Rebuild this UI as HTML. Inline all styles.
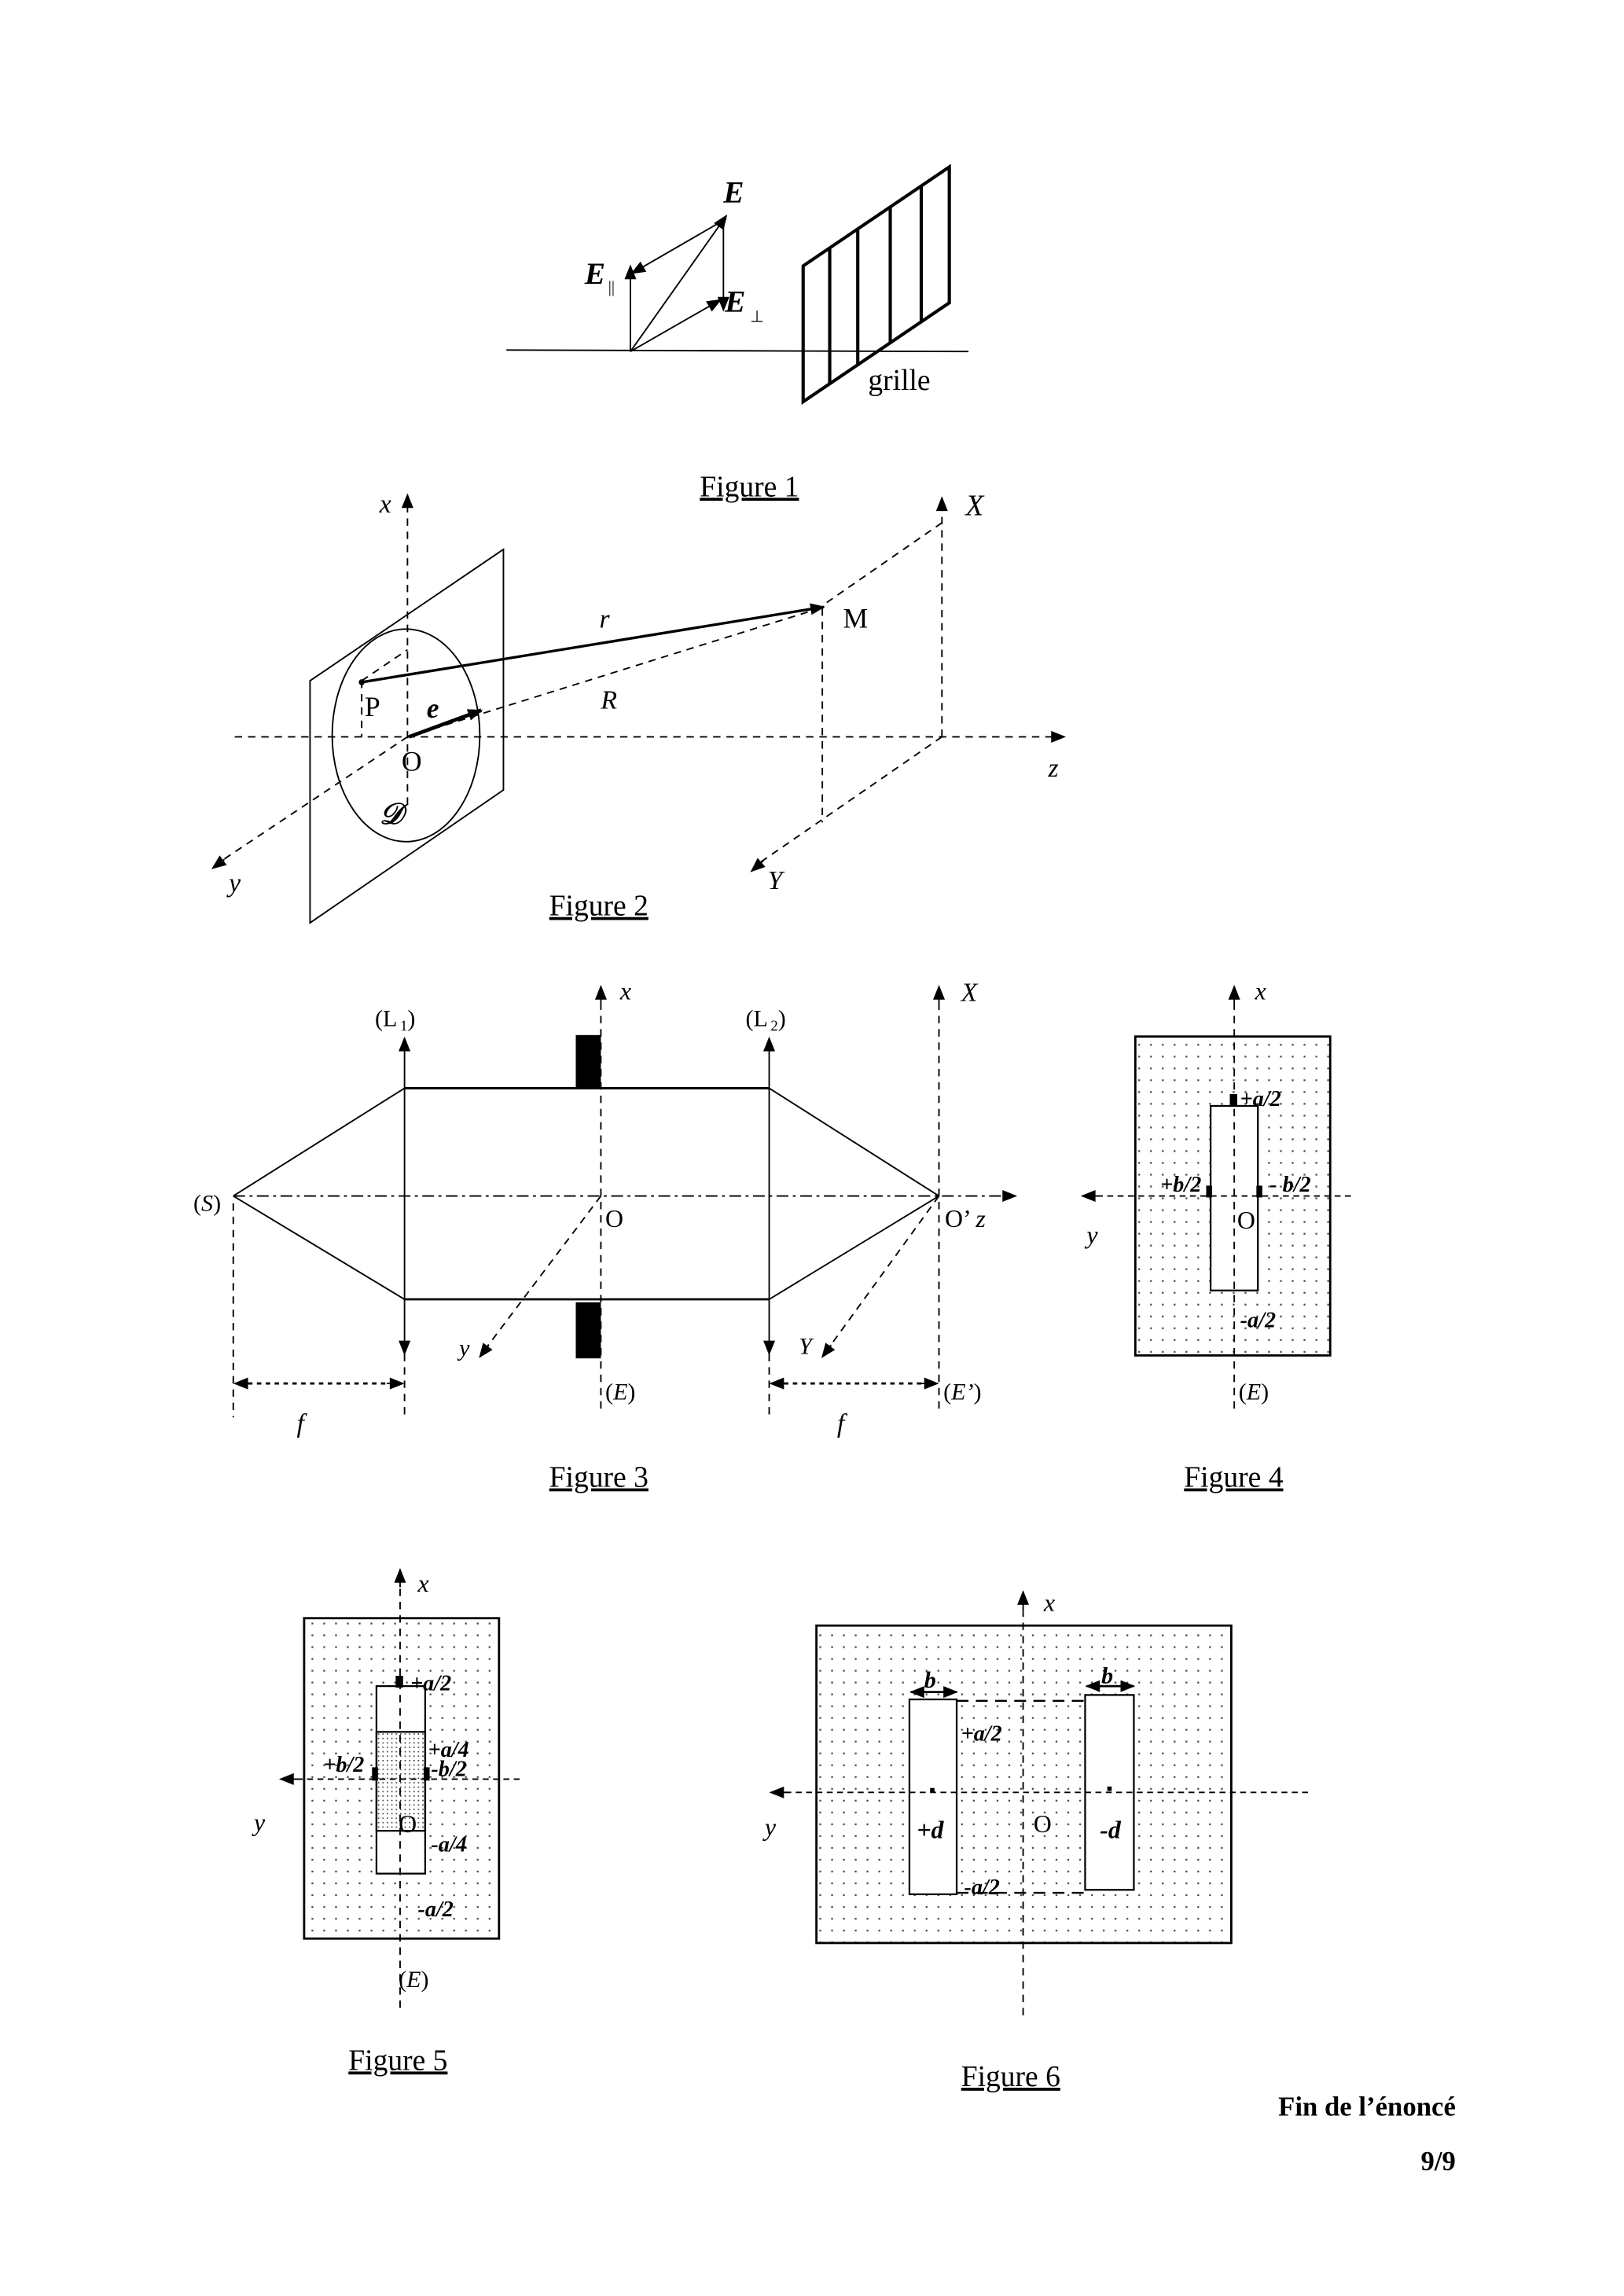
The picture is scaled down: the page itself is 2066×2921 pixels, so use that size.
<!DOCTYPE html>
<html><head><meta charset="utf-8"><style>
html,body{margin:0;padding:0;background:#fff;}
svg{display:block;}
text{font-family:"Liberation Serif",serif;fill:#000;}
.i{font-style:italic;}
.b{font-weight:bold;}
</style></head><body>
<svg width="2066" height="2921" viewBox="0 0 1100 1555" xmlns="http://www.w3.org/2000/svg">
<defs>
<marker id="ah" viewBox="0 0 10 10" refX="9" refY="5" markerWidth="11" markerHeight="10" markerUnits="userSpaceOnUse" orient="auto"><path d="M0,1 L10,5 L0,9 z" fill="#000"/></marker>
<pattern id="dots" width="8" height="8" patternUnits="userSpaceOnUse"><rect x="3" y="3" width="1.2" height="1.2" fill="#444"/></pattern>
<pattern id="dots2" width="3" height="3" patternUnits="userSpaceOnUse"><rect x="1" y="1" width="0.9" height="0.9" fill="#444"/></pattern>
</defs>
<rect width="1100" height="1555" fill="#fff"/>
<g stroke="#000" fill="none" stroke-width="1">
<!-- Figure 1 -->
<line x1="343" y1="237" x2="656" y2="238"/>
<line x1="427" y1="238" x2="427" y2="180" marker-end="url(#ah)"/>
<line x1="427" y1="238" x2="492" y2="146" marker-end="url(#ah)"/>
<line x1="427" y1="238" x2="488" y2="203" marker-end="url(#ah)"/>
<line x1="492" y1="148" x2="428" y2="185" marker-end="url(#ah)"/>
<line x1="490" y1="152" x2="490" y2="210" marker-end="url(#ah)"/>
<g stroke-width="2.2">
<polygon points="544,180 643,113 643,205 544,272"/>
<line x1="562" y1="168" x2="562" y2="260"/>
<line x1="581" y1="155" x2="581" y2="247"/>
<line x1="603" y1="140" x2="603" y2="232"/>
<line x1="624" y1="126" x2="624" y2="218"/>
</g>
<!-- Figure 2 -->
<polygon points="210,461 341,372 341,535 210,625"/>
<ellipse cx="275" cy="498" rx="50" ry="72"/>
<g stroke-dasharray="5,4">
<line x1="276" y1="545" x2="276" y2="345"/>
<line x1="159" y1="499" x2="712" y2="499"/>
<line x1="276" y1="499" x2="150" y2="583"/>
<line x1="638" y1="499" x2="638" y2="345"/>
<line x1="638" y1="354" x2="560" y2="408"/>
<line x1="557" y1="412" x2="557" y2="557"/>
<line x1="638" y1="499" x2="515" y2="584"/>
<line x1="276" y1="499" x2="555" y2="412"/>
<line x1="245" y1="461" x2="245" y2="499"/>
<line x1="245" y1="461" x2="276" y2="440"/>
</g>
<line x1="712" y1="499" x2="721" y2="499" marker-end="url(#ah)"/>
<line x1="276" y1="345" x2="276" y2="335" marker-end="url(#ah)"/>
<line x1="638" y1="346" x2="638" y2="337" marker-end="url(#ah)"/>
<line x1="152" y1="582" x2="144" y2="588" marker-end="url(#ah)"/>
<line x1="517" y1="583" x2="509" y2="590" marker-end="url(#ah)"/>
<line x1="245" y1="462" x2="558" y2="411" stroke-width="1.8" marker-end="url(#ah)"/>
<line x1="277" y1="499" x2="326" y2="481" stroke-width="2.5" marker-end="url(#ah)"/>
<circle cx="245" cy="462" r="1.5" fill="#000"/>
<!-- Figure 3 -->
<line x1="158" y1="810" x2="274" y2="737"/>
<line x1="158" y1="810" x2="274" y2="880"/>
<line x1="274" y1="737" x2="521" y2="737" stroke-width="1.5"/>
<line x1="274" y1="880" x2="521" y2="880" stroke-width="1.5"/>
<line x1="521" y1="737" x2="636" y2="810"/>
<line x1="521" y1="880" x2="636" y2="810"/>
<line x1="274" y1="810" x2="274" y2="703" marker-end="url(#ah)"/>
<line x1="274" y1="810" x2="274" y2="917" marker-end="url(#ah)"/>
<line x1="521" y1="810" x2="521" y2="703" marker-end="url(#ah)"/>
<line x1="521" y1="810" x2="521" y2="917" marker-end="url(#ah)"/>
<line x1="158" y1="810" x2="680" y2="810" stroke-dasharray="8,3,2,3"/>
<line x1="680" y1="810" x2="688" y2="810" marker-end="url(#ah)"/>
<g stroke-dasharray="5,4">
<line x1="407" y1="954" x2="407" y2="680"/>
<line x1="636" y1="954" x2="636" y2="680"/>
<line x1="158" y1="815" x2="158" y2="960"/>
<line x1="274" y1="917" x2="274" y2="960"/>
<line x1="521" y1="917" x2="521" y2="960"/>
<line x1="407" y1="810" x2="330" y2="912"/>
<line x1="636" y1="810" x2="562" y2="912"/>
</g>
<line x1="407" y1="680" x2="407" y2="668" marker-end="url(#ah)"/>
<line x1="636" y1="680" x2="636" y2="668" marker-end="url(#ah)"/>
<line x1="331" y1="911" x2="325" y2="919" marker-end="url(#ah)"/>
<line x1="563" y1="911" x2="557" y2="919" marker-end="url(#ah)"/>
<g stroke-dasharray="3,3" stroke-width="1.5">
<line x1="168" y1="937" x2="264" y2="937"/>
<line x1="531" y1="937" x2="626" y2="937"/>
</g>
<line x1="170" y1="937" x2="159" y2="937" marker-end="url(#ah)"/>
<line x1="262" y1="937" x2="273" y2="937" marker-end="url(#ah)"/>
<line x1="533" y1="937" x2="522" y2="937" marker-end="url(#ah)"/>
<line x1="624" y1="937" x2="635" y2="937" marker-end="url(#ah)"/>
<rect x="390" y="701" width="17" height="36" fill="#000" stroke="none"/>
<rect x="390" y="882" width="17" height="38" fill="#000" stroke="none"/>
<!-- Figure 4 -->
<rect x="769" y="702" width="132" height="216" fill="url(#dots)" stroke-width="1.5"/>
<rect x="820" y="749" width="32" height="125" fill="#fff" stroke-width="1.2"/>
<line x1="836" y1="954" x2="836" y2="680" stroke-dasharray="5,4"/>
<line x1="836" y1="680" x2="836" y2="668" marker-end="url(#ah)"/>
<line x1="915" y1="810" x2="742" y2="810" stroke-dasharray="4,3"/>
<line x1="745" y1="810" x2="733" y2="810" marker-end="url(#ah)"/>
<rect x="833" y="741" width="5" height="8" fill="#000" stroke="none"/>
<rect x="817" y="803" width="4" height="8" fill="#000" stroke="none"/>
<rect x="851" y="803" width="4" height="8" fill="#000" stroke="none"/>
<!-- Figure 5 -->
<rect x="206" y="1096" width="132" height="217" fill="url(#dots)" stroke-width="1.5"/>
<rect x="255" y="1142" width="33" height="127" fill="#fff" stroke-width="1.2"/>
<rect x="255" y="1173" width="33" height="67" fill="url(#dots2)" stroke-width="1.2"/>
<line x1="271" y1="1360" x2="271" y2="1075" stroke-dasharray="5,4"/>
<line x1="271" y1="1075" x2="271" y2="1063" marker-end="url(#ah)"/>
<line x1="352" y1="1205" x2="200" y2="1205" stroke-dasharray="4,3"/>
<line x1="202" y1="1205" x2="190" y2="1205" marker-end="url(#ah)"/>
<rect x="268" y="1135" width="5" height="8" fill="#000" stroke="none"/>
<rect x="252" y="1197" width="4" height="9" fill="#000" stroke="none"/>
<rect x="287" y="1197" width="4" height="9" fill="#000" stroke="none"/>
<!-- Figure 6 -->
<rect x="553" y="1101" width="281" height="215" fill="url(#dots)" stroke-width="1.5"/>
<rect x="616" y="1151" width="32" height="132" fill="#fff" stroke-width="1.2"/>
<rect x="735" y="1148" width="33" height="132" fill="#fff" stroke-width="1.2"/>
<line x1="693" y1="1365" x2="693" y2="1092" stroke-dasharray="5,4"/>
<line x1="693" y1="1092" x2="693" y2="1078" marker-end="url(#ah)"/>
<line x1="886" y1="1214" x2="532" y2="1214" stroke-dasharray="4,3"/>
<line x1="534" y1="1214" x2="522" y2="1214" marker-end="url(#ah)"/>
<g stroke-dasharray="8,5" stroke-width="1.3">
<line x1="648" y1="1152" x2="735" y2="1152"/>
<line x1="648" y1="1282" x2="735" y2="1282"/>
</g>
<line x1="632" y1="1146" x2="617" y2="1146" stroke-width="1.5" marker-end="url(#ah)"/>
<line x1="632" y1="1146" x2="648" y2="1146" stroke-width="1.5" marker-end="url(#ah)"/>
<line x1="751" y1="1142" x2="736" y2="1142" stroke-width="1.5" marker-end="url(#ah)"/>
<line x1="751" y1="1142" x2="768" y2="1142" stroke-width="1.5" marker-end="url(#ah)"/>
<rect x="630" y="1211" width="3" height="3" fill="#000" stroke="none"/>
<rect x="750" y="1210" width="3" height="3" fill="#000" stroke="none"/>
</g>
<!-- Text -->
<g font-size="19">
<text x="490" y="137" class="i b" font-size="21">E</text>
<text x="396" y="192" class="i b" font-size="21">E</text><text x="412" y="198" font-size="11">||</text>
<text x="491" y="211" class="i b" font-size="21">E</text><text x="508" y="218" font-size="11">⊥</text>
<text x="588" y="264" font-size="20">grille</text>
<text x="474" y="336" font-size="20" text-decoration="underline">Figure 1</text>
<text x="257" y="347" class="i" font-size="18">x</text>
<text x="654" y="349" class="i" font-size="20">X</text>
<text x="406" y="425" class="i" font-size="18">r</text>
<text x="407" y="480" class="i" font-size="18">R</text>
<text x="571" y="425" font-size="19">M</text>
<text x="247" y="485" font-size="19">P</text>
<text x="289" y="486" class="i b" font-size="19">e</text>
<text x="272" y="522" font-size="19">O</text>
<text x="710" y="526" class="i" font-size="18">z</text>
<text x="257" y="558" class="i b" font-size="20" font-family="Liberation Serif">𝒟</text>
<text x="155" y="604" class="i" font-size="18">y</text>
<text x="520" y="602" class="i" font-size="18">Y</text>
<text x="372" y="620" font-size="20" text-decoration="underline">Figure 2</text>
<text x="254" y="695" font-size="16">(L</text><text x="271" y="698" font-size="10">1</text><text x="276" y="695" font-size="16">)</text>
<text x="505" y="695" font-size="16">(L</text><text x="522" y="698" font-size="10">2</text><text x="527" y="695" font-size="16">)</text>
<text x="420" y="677" class="i" font-size="17">x</text>
<text x="651" y="678" class="i" font-size="18">X</text>
<text x="131" y="820" font-size="16">(<tspan class="i">S</tspan>)</text>
<text x="410" y="831" font-size="17">O</text>
<text x="640" y="831" font-size="17">O’ <tspan class="i">z</tspan></text>
<text x="311" y="918" class="i" font-size="16">y</text>
<text x="541" y="917" class="i" font-size="16">Y</text>
<text x="410" y="948" font-size="16">(<tspan class="i">E</tspan>)</text>
<text x="639" y="948" font-size="16">(<tspan class="i">E’</tspan>)</text>
<text x="201" y="970" class="i" font-size="18">f</text>
<text x="567" y="970" class="i" font-size="18">f</text>
<text x="372" y="1007" font-size="20" text-decoration="underline">Figure 3</text>
<text x="850" y="677" class="i" font-size="17">x</text>
<text x="840" y="749" class="i b" font-size="15">+a/2</text>
<text x="786" y="807" class="i b" font-size="15">+b/2</text>
<text x="860" y="807" class="i b" font-size="15">- b/2</text>
<text x="838" y="832" font-size="17">O</text>
<text x="736" y="842" class="i" font-size="17">y</text>
<text x="840" y="899" class="i b" font-size="15">-a/2</text>
<text x="839" y="948" font-size="16">(<tspan class="i">E</tspan>)</text>
<text x="802" y="1007" font-size="20" text-decoration="underline">Figure 4</text>
<text x="283" y="1078" class="i" font-size="17">x</text>
<text x="278" y="1145" class="i b" font-size="15">+a/2</text>
<text x="290" y="1190" class="i b" font-size="15">+a/4</text>
<text x="219" y="1200" class="i b" font-size="15">+b/2</text>
<text x="292" y="1203" class="i b" font-size="15">-b/2</text>
<text x="270" y="1241" font-size="17">O</text>
<text x="292" y="1254" class="i b" font-size="15">-a/4</text>
<text x="283" y="1298" class="i b" font-size="15">-a/2</text>
<text x="172" y="1240" class="i" font-size="17">y</text>
<text x="270" y="1346" font-size="16">(<tspan class="i">E</tspan>)</text>
<text x="236" y="1402" font-size="20" text-decoration="underline">Figure 5</text>
<text x="707" y="1091" class="i" font-size="17">x</text>
<text x="626" y="1143" class="i b" font-size="16">b</text>
<text x="746" y="1140" class="i b" font-size="16">b</text>
<text x="651" y="1179" class="i b" font-size="15">+a/2</text>
<text x="653" y="1283" class="i b" font-size="15">-a/2</text>
<text x="621" y="1245" class="i b" font-size="17">+d</text>
<text x="745" y="1245" class="i b" font-size="17">-d</text>
<text x="700" y="1241" font-size="17">O</text>
<text x="518" y="1243" class="i" font-size="17">y</text>
<text x="651" y="1413" font-size="20" text-decoration="underline">Figure 6</text>
<text x="986" y="1433" class="b" font-size="18.5" text-anchor="end">Fin de l’énoncé</text>
<text x="986" y="1470" class="b" font-size="18.5" text-anchor="end">9/9</text>
</g>
</svg>
</body></html>
